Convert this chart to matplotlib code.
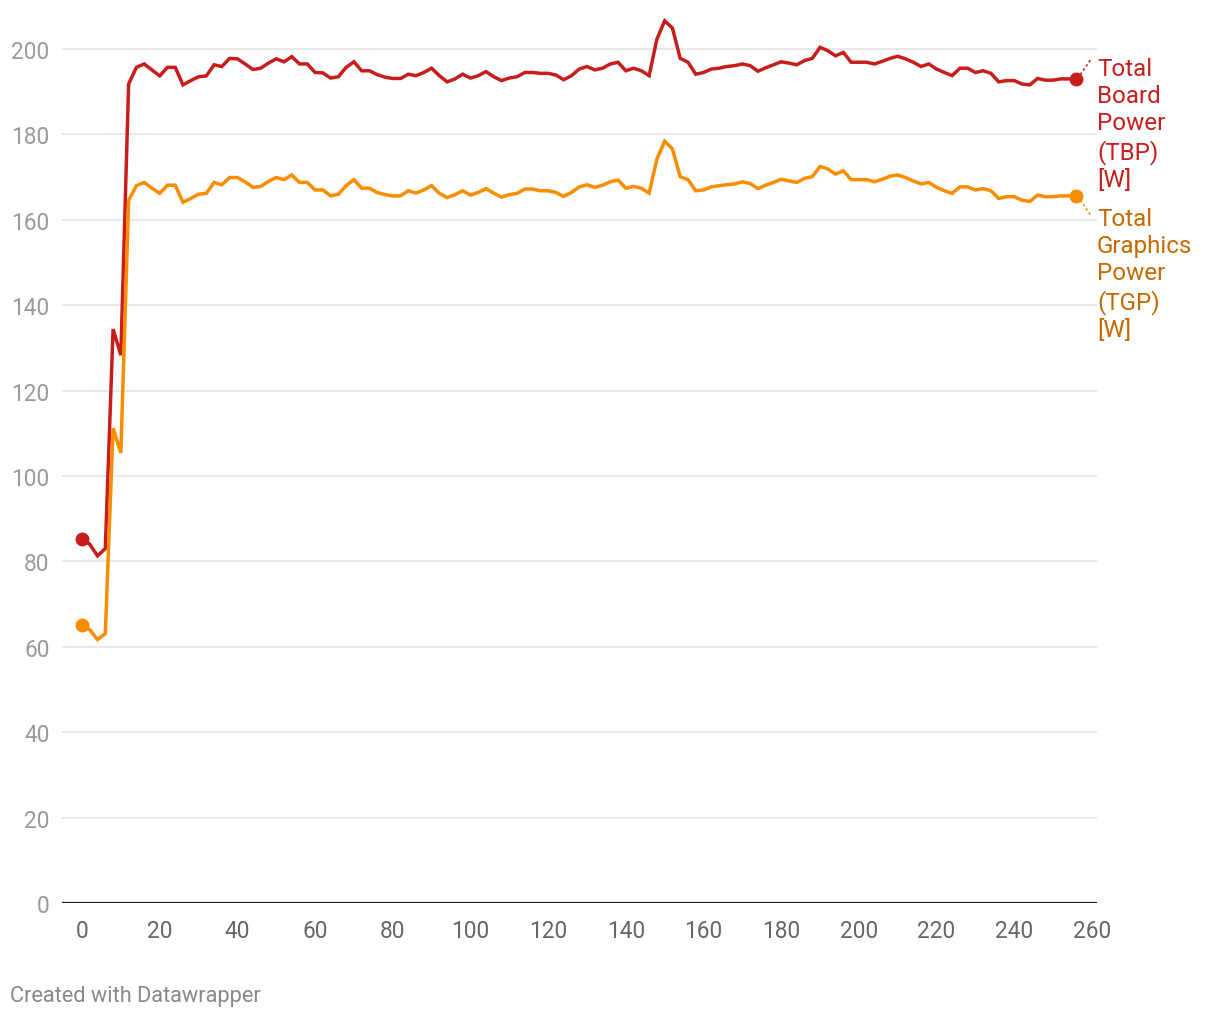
import matplotlib
matplotlib.use("Agg")
import matplotlib.pyplot as plt
import numpy as np

plt.rcParams['font.family'] = ['Roboto', 'DejaVu Sans']

# time (s), sampled every 2 s
time_s = list(range(0, 258, 2))

tbp = [85.2, 84.0, 81.3, 83.0, 134.4, 128.3,
       191.8, 195.7, 196.5, 195.1, 193.7, 195.7, 195.7, 191.6, 192.6, 193.5,
       193.7, 196.3, 195.9, 197.8, 197.7, 196.5, 195.2, 195.5, 196.7, 197.7,
       197.0, 198.2, 196.5, 196.5, 194.5, 194.4, 193.2, 193.5, 195.7, 197.0,
       194.9, 194.9, 194.0, 193.4, 193.1, 193.1, 194.1, 193.75, 194.5, 195.5,
       193.75, 192.3, 193.0, 194.1, 193.2, 193.75, 194.7, 193.5, 192.6, 193.2,
       193.5, 194.5, 194.5, 194.3, 194.3, 193.9, 192.8, 193.75, 195.3, 195.9,
       195.1, 195.5, 196.5, 196.9, 194.9, 195.5, 194.9, 193.75, 202.3, 206.6,
       204.9, 197.8, 196.9, 194.1, 194.5, 195.3, 195.5, 195.9, 196.1, 196.5,
       196.1, 194.8, 195.6, 196.3, 197.0, 196.7, 196.3, 197.3, 197.8, 200.4,
       199.6, 198.4, 199.2, 196.9, 196.9, 196.9, 196.5, 197.1, 197.8, 198.3,
       197.7, 196.9, 195.9, 196.5, 195.3, 194.5, 193.75, 195.5, 195.5, 194.5,
       194.9, 194.3, 192.3, 192.6, 192.6, 191.8, 191.6, 193.1, 192.7, 192.7,
       193.0, 193.0, 193.0]

tgp = [65.1, 64.0, 61.7, 63.1, 111.2, 105.4,
       164.5, 168.0, 168.75, 167.4, 166.2, 168.1, 168.1, 164.1, 165.0, 166.0,
       166.2, 168.75, 168.2, 169.9, 169.9, 168.9, 167.6, 167.8, 169.0, 169.9,
       169.4, 170.5, 168.75, 168.75, 167.0, 167.0, 165.6, 166.0, 168.0, 169.4,
       167.4, 167.4, 166.4, 165.9, 165.6, 165.6, 166.8, 166.25, 167.0, 168.0,
       166.2, 165.2, 165.9, 166.8, 165.8, 166.4, 167.3, 166.25, 165.3, 165.9,
       166.2, 167.2, 167.2, 166.8, 166.8, 166.4, 165.5, 166.4, 167.7, 168.2,
       167.6, 168.1, 168.9, 169.3, 167.4, 167.8, 167.4, 166.25, 174.2, 178.4,
       176.6, 170.1, 169.4, 166.8, 167.0, 167.7, 168.0, 168.2, 168.4, 168.9,
       168.5, 167.3, 168.1, 168.75, 169.5, 169.1, 168.75, 169.7, 170.1, 172.5,
       171.9, 170.7, 171.5, 169.4, 169.4, 169.4, 168.9, 169.5, 170.2, 170.5,
       169.9, 169.1, 168.4, 168.75, 167.6, 166.8, 166.2, 167.7, 167.7, 167.0,
       167.3, 166.8, 165.0, 165.4, 165.4, 164.6, 164.3, 165.8, 165.4, 165.4,
       165.6, 165.6, 165.6]

series_names = ["Total\nBoard\nPower\n(TBP)\n[W]", "Total\nGraphics\nPower\n(TGP)\n[W]"]
line_colors = ["#c71e1d", "#fa8c00"]
label_colors = ["#c71e1d", "#c66a00"]

x_ticks = list(range(0, 261, 20))
y_ticks = list(range(0, 201, 20))

W, H = 1220, 1020
fig = plt.figure(figsize=(W / 100, H / 100), dpi=100)
ax_left, ax_right = 62 / W, 1097 / W
ax_bottom = 1 - 904 / H
ylim_top = 210
ax_h = ylim_top * 4.27 / H
ax = fig.add_axes([ax_left, ax_bottom, ax_right - ax_left, ax_h])

ax.set_xlim(-5.15, 261.3)
ax.set_ylim(0, ylim_top)

for s in ax.spines.values():
    s.set_visible(False)

for yv in y_ticks[1:]:
    ax.axhline(yv, color="#e3e3e3", lw=1.1, zorder=1)
ax.axhline(0, color="#1a1a1a", lw=1.6, zorder=3)

for vals, col in zip([tbp, tgp], line_colors):
    ax.plot(time_s, vals, color=col, lw=2.5, zorder=4, solid_joinstyle='miter')
    ax.plot([time_s[0], time_s[-1]], [vals[0], vals[-1]], 'o', color=col,
            ms=9, zorder=5, clip_on=False)

# labels
ax.text(261.3, 198.2, series_names[0], color=label_colors[0], fontsize=17.4,
        va='top', ha='left', linespacing=1.24, clip_on=False)
ax.text(261.3, 163.1, series_names[1], color=label_colors[1], fontsize=17.4,
        va='top', ha='left', linespacing=1.24, clip_on=False)
ax.plot([time_s[-1] + 1.0, time_s[-1] + 3.6], [tbp[-1] + 1.0, tbp[-1] + 4.4],
        ls=(0, (1.5, 1.5)), color=line_colors[0], lw=1.2, clip_on=False)
ax.plot([time_s[-1] + 1.0, time_s[-1] + 3.6], [tgp[-1] - 1.0, tgp[-1] - 4.4],
        ls=(0, (1.5, 1.5)), color=line_colors[1], lw=1.2, clip_on=False)

ax.set_xticks(x_ticks)
ax.set_yticks(y_ticks)
ax.tick_params(axis='x', length=0, pad=11.5, labelsize=16.3, labelcolor="#666666")
ax.tick_params(axis='y', length=0, pad=9, labelsize=16.3, labelcolor="#9a9a9a")

fig.text(10 / W, 1 - 997 / H, "Created with Datawrapper", fontsize=15.7,
         color="#888888", va='center', ha='left')

fig.savefig("out.png", dpi=100)
